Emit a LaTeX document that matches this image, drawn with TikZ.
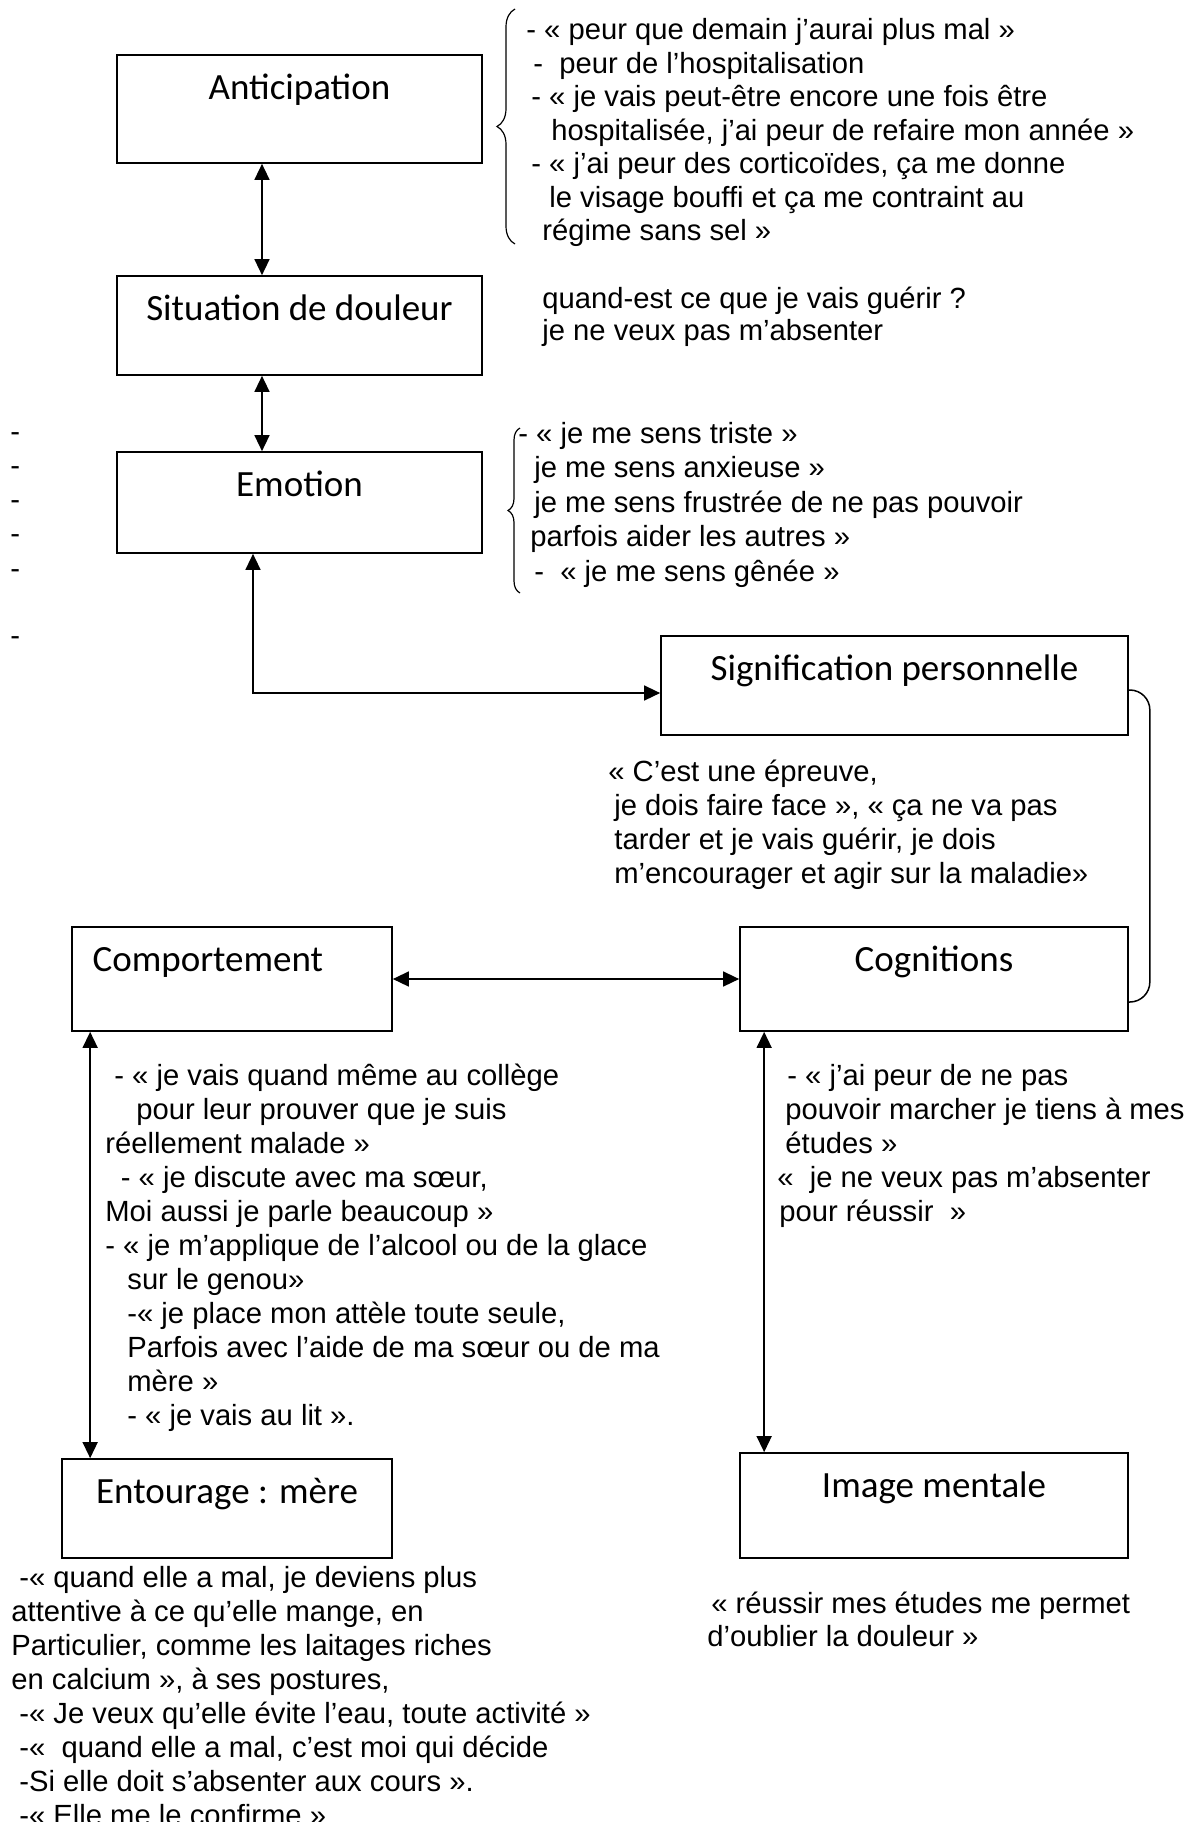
\documentclass[tikz,border=0pt]{standalone}
\usepackage{fontspec}
\setmainfont{Liberation Sans}
\newfontfamily\boxfont{Carlito}
\usetikzlibrary{arrows.meta,decorations.pathreplacing}

\begin{document}
\begin{tikzpicture}[x=0.5pt,y=-0.5pt,
  panel/.style={draw,line width=0.85pt,inner sep=0pt},
  heading/.style={anchor=base,inner sep=0pt,
    font=\boxfont\fontsize{18.5pt}{22pt}\selectfont},
  remark/.style={anchor=base west,align=left,inner sep=0pt,
    font=\fontsize{14.6pt}{#1}\selectfont},
  remark/.default=17pt,
  twoway/.style={line width=0.75pt,
    {Triangle[length=8pt,width=7.5pt]}-{Triangle[length=8pt,width=7.5pt]}},
  curl/.style={decorate,decoration={brace,amplitude=#1},line width=0.6pt}]

% Canvas: 1202 x 1822 units, y grows downward (1 unit = 0.5pt)
\useasboundingbox (0,0) rectangle (1202,1822);

% ── Boxes ─────────────────────────────────────────────────────────────────────
\node[panel,minimum width=182.5pt,minimum height=54pt]   (anti) at (299.5,109)    {};
\node[panel,minimum width=182.5pt,minimum height=49.5pt] (sit)  at (299.5,325.5)  {};
\node[panel,minimum width=182.5pt,minimum height=50.5pt] (emo)  at (299.5,502.5)  {};
\node[panel,minimum width=233.5pt,minimum height=49.5pt] (sig)  at (894.5,685.5)  {};
\node[panel,minimum width=160pt,minimum height=52pt]     (comp) at (232,979)      {};
\node[panel,minimum width=194pt,minimum height=52pt]     (cog)  at (934,979)      {};
\node[panel,minimum width=165pt,minimum height=49.5pt]   (ent)  at (227,1508.5)   {};
\node[panel,minimum width=194pt,minimum height=52.5pt]   (img)  at (934,1505.5)   {};

% titles sit in the upper half of each box
\node[heading] (antiT) at ([yshift=-22.5pt]anti.north) {Anticipation};
\node[heading] (sitT)  at ([yshift=-22.5pt]sit.north)  {Situation de douleur};
\node[heading] (emoT)  at ([yshift=-22.5pt]emo.north)  {Emotion};
\node[heading] (sigT)  at ([yshift=-22.5pt]sig.north)  {Signification personnelle};
\node[heading,anchor=base west] (compT) at ([xshift=10.5pt,yshift=-22.5pt]comp.north west) {Comportement};
\node[heading] (cogT)  at ([yshift=-22.5pt]cog.north)  {Cognitions};
\node[heading] (entT)  at ([yshift=-22.5pt]ent.north)  {Entourage : mère};
\node[heading] (imgT)  at ([yshift=-22.5pt]img.north)  {Image mentale};

% ── Connectors ────────────────────────────────────────────────────────────────
\draw[twoway] ([xshift=-18.75pt]anti.south) -- ([xshift=-18.75pt]sit.north);
\draw[twoway] ([xshift=-18.75pt]sit.south)  -- ([xshift=-18.75pt]emo.north);
\draw[twoway] ([xshift=-23.25pt]emo.south)  |- ([yshift=-3.75pt]sig.west);
\draw[twoway] (comp.east) -- (cog.west);

\coordinate (compfoot) at ([xshift=9.5pt]comp.south west);
\coordinate (cogfoot)  at ([xshift=12.5pt]cog.south west);
\draw[twoway] (compfoot) -- (compfoot |- ent.north);
\draw[twoway] (cogfoot)  -- (cogfoot |- img.north);

% bracket joining Signification personnelle and Cognitions
\draw[line width=0.75pt,rounded corners=10pt]
  ([yshift=-2.25pt]sig.east) -| ([xshift=10.5pt,yshift=-11.5pt]cog.east)
  -- ([yshift=-11.5pt]cog.east);

% ── Braces ────────────────────────────────────────────────────────────────────
\draw[curl=9pt] (515,244) -- (515,9);
\draw[curl=6pt] (520,593) -- (520,428);

% ── Quotes ────────────────────────────────────────────────────────────────────
% multi-line nodes: the base anchor is the baseline of the last line
\node[remark=16.75pt] (antiQ) at (526,240.5) {%
  - « peur que demain j’aurai plus mal »\\
  \hspace*{3.5pt}-\ \ peur de l’hospitalisation\\
  \hspace*{2.5pt}- « je vais peut-être encore une fois être\\
  \hspace*{12.5pt}hospitalisée, j’ai peur de refaire mon année »\\
  \hspace*{2.5pt}- « j’ai peur des corticoïdes, ça me donne\\
  \hspace*{11.5pt}le visage bouffi et ça me contraint au\\
  \hspace*{8pt}régime sans sel »};

\node[remark=16pt] (sitQ) at (542,340.5)
  {quand-est ce que je vais guérir ?\\je ne veux pas m’absenter};

\node[remark=17.25pt] (emoQ) at (518,581) {%
  - « je me sens triste »\\
  \hspace*{8pt}je me sens anxieuse »\\
  \hspace*{8pt}je me sens frustrée de ne pas pouvoir\\
  \hspace*{6pt}parfois aider les autres »\\
  \hspace*{8pt}-\ \ « je me sens gênée »};

% loose dashes in the left margin
\foreach \y [count=\i] in {441,475,509,543,578,645}
  \node[remark] (dash\i) at (10,\y) {-};

\node[remark] (sigQ) at (608,883.5) {%
  « C’est une épreuve,\\
  \hspace*{3pt}je dois faire face », « ça ne va pas\\
  \hspace*{3pt}tarder et je vais guérir, je dois\\
  \hspace*{3pt}m’encourager et agir sur la maladie»};

\node[remark] (compQ) at (105,1425.5) {%
  \hspace*{4.5pt}- « je vais quand même au collège\\
  \hspace*{15.5pt}pour leur prouver que je suis\\
  réellement malade »\\
  \hspace*{7.75pt}- « je discute avec ma sœur,\\
  Moi aussi je parle beaucoup »\\
  - « je m’applique de l’alcool ou de la glace\\
  \hspace*{11pt}sur le genou»\\
  \hspace*{11pt}-« je place mon attèle toute seule,\\
  \hspace*{11pt}Parfois avec l’aide de ma sœur ou de ma\\
  \hspace*{11pt}mère »\\
  \hspace*{11pt}- « je vais au lit ».};

\node[remark] (cogQ) at (777,1221.5) {%
  \hspace*{5pt}- « j’ai peur de ne pas\\
  \hspace*{4pt}pouvoir marcher je tiens à mes\\
  \hspace*{4pt}études »\\
  «\ \ je ne veux pas m’absenter\\
  \hspace*{1pt}pour réussir\ \ »};

\node[remark] (entQ) at (11,1825.5) {%
  \hspace*{4pt}-« quand elle a mal, je deviens plus\\
  attentive à ce qu’elle mange, en\\
  Particulier, comme les laitages riches\\
  en calcium », à ses postures,\\
  \hspace*{4pt}-« Je veux qu’elle évite l’eau, toute activité »\\
  \hspace*{4pt}-«\ \ quand elle a mal, c’est moi qui décide\\
  \hspace*{4pt}-Si elle doit s’absenter aux cours ».\\
  \hspace*{4pt}-« Elle me le confirme »};

\node[remark=16.5pt] (imgQ) at (707,1646.5)
  {\hspace*{2pt}« réussir mes études me permet\\d’oublier la douleur »};

\end{tikzpicture}
\end{document}
